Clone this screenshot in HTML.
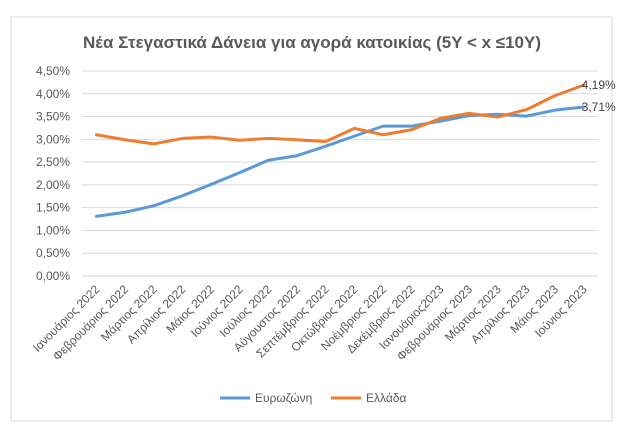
<!DOCTYPE html>
<html><head><meta charset="utf-8"><style>
body{margin:0;background:#fff;}
svg{display:block;font-family:"Liberation Sans","DejaVu Sans",sans-serif;}
</style></head><body>
<svg id="chart" width="624" height="434" viewBox="0 0 624 434">
<rect x="11" y="17" width="601" height="404" fill="#fff" stroke="#d9d9d9"/>
<text x="312" y="48" text-anchor="middle" font-size="17" font-weight="bold" fill="#595959" textLength="458" lengthAdjust="spacingAndGlyphs">Νέα Στεγαστικά Δάνεια για αγορά κατοικίας (5Y &lt; x ≤10Y)</text>
<g id="grid"></g><g id="ylabels"></g><g id="xlabels"></g><g id="series"></g>
<g>
<g><line x1="220" y1="398" x2="250" y2="398" stroke="#5b9bd5" stroke-width="3"/><text x="255" y="402" font-size="12" fill="#595959">Ευρωζώνη</text></g>
<g><line x1="331" y1="398" x2="361" y2="398" stroke="#ed7d31" stroke-width="3"/><text x="366" y="402" font-size="12" fill="#595959">Ελλάδα</text></g>
</g>
</svg>
<script>
const categories=["Ιανουάριος 2022","Φεβρουάριος 2022","Μάρτιος 2022","Απρίλιος 2022","Μάιος 2022","Ιούνιος 2022","Ιούλιος 2022","Αύγουστος 2022","Σεπτέμβριος 2022","Οκτώβριος 2022","Νοέμβριος 2022","Δεκέμβριος 2022","Ιανουάριος2023","Φεβρουάριος 2023","Μάρτιος 2023","Απρίλιος 2023","Μάιος 2023","Ιούνιος 2023"];
const eurozone=[1.31,1.40,1.54,1.76,2.01,2.27,2.54,2.64,2.85,3.07,3.29,3.29,3.40,3.52,3.55,3.51,3.64,3.71];
const greece=[3.10,2.99,2.90,3.02,3.05,2.98,3.02,2.99,2.95,3.24,3.10,3.21,3.46,3.57,3.49,3.65,3.96,4.19];
const yTicks=[0,0.5,1,1.5,2,2.5,3,3.5,4,4.5];
const NS="http://www.w3.org/2000/svg";
const X0=82,X1=598,Y0=276,Y1=71,YMAX=4.5;
const band=(X1-X0)/categories.length;
function xs(i){return X0+band*(i+0.5);}
function ys(v){return Y0-(v/YMAX)*(Y0-Y1);}
function fmt(v){return v.toFixed(2).replace('.',',')+'%';}
function mk(tag,attrs,parent){const e=document.createElementNS(NS,tag);for(const k in attrs)e.setAttribute(k,attrs[k]);parent.appendChild(e);return e;}
const grid=document.getElementById('grid'),yl=document.getElementById('ylabels'),xl=document.getElementById('xlabels'),se=document.getElementById('series');
yTicks.forEach(t=>{
 const l=mk('line',{x1:X0,x2:X1,y1:ys(t),y2:ys(t),stroke:'#d9d9d9','stroke-width':1},grid);
 
 
 const tx=mk('text',{x:70,y:ys(t)+4,'text-anchor':'end','font-size':12,fill:'#595959'},yl);
 tx.textContent=fmt(t);
 
 
});
categories.forEach((c,i)=>{
 const x=xs(i)+4,y=290;
 const tx=mk('text',{x:x,y:y,'text-anchor':'end','font-size':12,fill:'#595959',transform:`rotate(-45 ${x} ${y})`},xl);
 tx.textContent=c;
 
 
});
function drawSeries(vals,color,name){
 const p=mk('polyline',{points:vals.map((v,i)=>xs(i)+','+ys(v)).join(' '),fill:'none',stroke:color,'stroke-width':3,'stroke-linejoin':'round','stroke-linecap':'round'},se);
 
 
 const n=vals.length-1;
 const t=mk('text',{x:xs(n)-2,y:ys(vals[n])+4,'font-size':12,fill:'#404040'},se);
 t.textContent=fmt(vals[n]);
 
 
}
drawSeries(eurozone,'#5b9bd5','eurozone');
drawSeries(greece,'#ed7d31','greece');
</script>
</body></html>
